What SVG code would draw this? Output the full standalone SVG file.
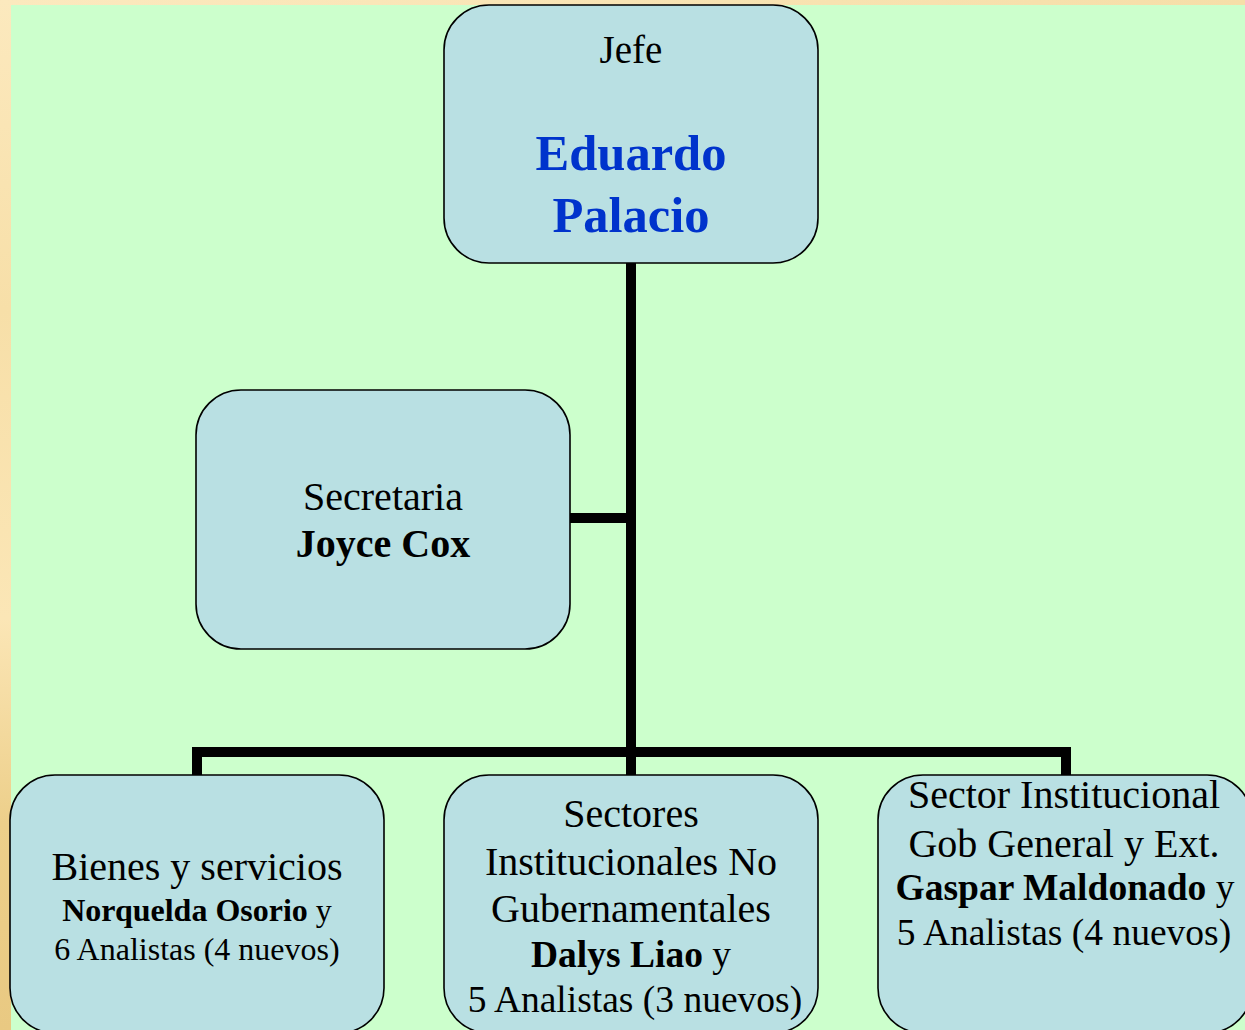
<svg xmlns="http://www.w3.org/2000/svg" width="1245" height="1030" viewBox="0 0 1245 1030">
<style>
.box{fill:#B9E0E3;stroke:#000;stroke-width:1.6}
text{font-family:'Liberation Serif','Times New Roman',Times,serif;fill:#000;text-anchor:middle}
.r{font-size:40px}
.m{font-size:37.5px}
.s{font-size:32px}
.b{font-weight:bold}
.blue{fill:#0033CC;font-weight:bold;font-size:50.5px}
.ln{stroke:#000;stroke-width:10;fill:none;stroke-linecap:butt}
</style>
<defs>
<linearGradient id="lstrip" x1="0" y1="0" x2="0" y2="1">
<stop offset="0" stop-color="#FCE9BE"/>
<stop offset="0.3" stop-color="#F7DFA8"/>
<stop offset="0.6" stop-color="#FBE6B6"/>
<stop offset="0.8" stop-color="#EDCF8A"/>
<stop offset="1" stop-color="#E9C982"/>
</linearGradient>
<linearGradient id="tstrip" x1="0" y1="0" x2="1" y2="0">
<stop offset="0" stop-color="#FCE9BE"/>
<stop offset="0.5" stop-color="#F9E4B4"/>
<stop offset="1" stop-color="#F6DEA8"/>
</linearGradient>
</defs>
<rect x="0" y="0" width="1245" height="1030" fill="#CCFFCC"/>
<rect x="0" y="0" width="1245" height="5" fill="url(#tstrip)"/>
<rect x="0" y="0" width="11" height="1030" fill="url(#lstrip)"/>
<g id="connectors">
<line class="ln" x1="631" y1="263" x2="631" y2="775"/>
<line class="ln" x1="570" y1="518" x2="631" y2="518"/>
<line class="ln" x1="192" y1="752" x2="1071" y2="752"/>
<line class="ln" x1="197" y1="747" x2="197" y2="775"/>
<line class="ln" x1="1066" y1="747" x2="1066" y2="775"/>
</g>
<g id="jefe">
<rect class="box" x="444" y="5" width="374" height="258" rx="45" ry="45"/>
<text class="r" x="631" y="63" style="font-size:39px">Jefe</text>
<text class="blue" x="631" y="170">Eduardo</text>
<text class="blue" x="631" y="232">Palacio</text>
</g>
<g id="secretaria">
<rect class="box" x="196" y="390" width="374" height="259" rx="45" ry="45"/>
<text class="r" x="383" y="510">Secretaria</text>
<text class="r b" x="383" y="557">Joyce Cox</text>
</g>
<g id="bienes">
<rect class="box" x="10" y="775" width="374" height="258" rx="45" ry="45"/>
<text class="r" x="197" y="880">Bienes y servicios</text>
<text class="s" x="197" y="921"><tspan class="b">Norquelda Osorio</tspan> y</text>
<text class="s" x="197" y="960">6 Analistas (4 nuevos)</text>
</g>
<g id="sectores">
<rect class="box" x="444" y="775" width="374" height="258" rx="45" ry="45"/>
<text class="r" x="631" y="827">Sectores</text>
<text class="r" x="631" y="875">Institucionales No</text>
<text class="r" x="631" y="922">Gubernamentales</text>
<text class="m" x="631" y="967"><tspan class="b">Dalys Liao</tspan> y</text>
<text class="m" x="635" y="1012">5 Analistas (3 nuevos)</text>
</g>
<g id="sector-institucional">
<rect class="box" x="878" y="775" width="374" height="258" rx="45" ry="45"/>
<text class="r" x="1064" y="808">Sector Institucional</text>
<text class="r" x="1064" y="857">Gob General y Ext.</text>
<text class="m" x="1065" y="900"><tspan class="b">Gaspar Maldonado</tspan> y</text>
<text class="m" x="1064" y="945">5 Analistas (4 nuevos)</text>
</g>
</svg>
